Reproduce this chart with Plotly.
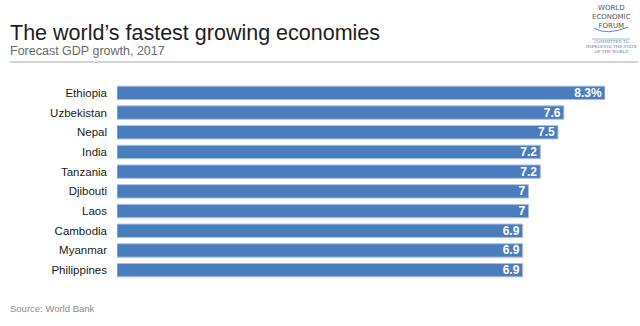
import plotly.graph_objects as go

countries = ["Ethiopia", "Uzbekistan", "Nepal", "India", "Tanzania",
             "Djibouti", "Laos", "Cambodia", "Myanmar", "Philippines"]
growth = [8.3, 7.6, 7.5, 7.2, 7.2, 7.0, 7.0, 6.9, 6.9, 6.9]
value_labels = ["8.3%", "7.6", "7.5", "7.2", "7.2", "7", "7", "6.9", "6.9", "6.9"]

BAR = "#4a7dbd"
EDGE = "#a9c3e3"

W, H = 640, 326
ML, MR, MT, MB = 117, 35, 83, 46
PW, PH = W - ML - MR, H - MT - MB


def xp(px):
    """Pixel x to paper coordinate."""
    return (px - ML) / PW


def yp(py):
    """Pixel y (from top) to paper coordinate."""
    return (H - MB - py) / PH


fig = go.Figure(go.Bar(
    x=growth,
    y=countries,
    orientation="h",
    marker=dict(color=BAR, line=dict(color=EDGE, width=1)),
    text=value_labels,
    textposition="inside",
    insidetextanchor="end",
    textangle=0,
    constraintext="none",
    textfont=dict(family="Liberation Sans, Arial", size=12, color="white"),
    texttemplate="<b>%{text}</b>",
    width=0.68,
    hoverinfo="skip",
))

fig.update_layout(
    width=W, height=H,
    margin=dict(l=ML, r=MR, t=MT, b=MB),
    paper_bgcolor="white",
    plot_bgcolor="white",
    showlegend=False,
    uniformtext=dict(minsize=12, mode="show"),
    xaxis=dict(range=[0, 8.3], visible=False, fixedrange=True),
    yaxis=dict(
        categoryorder="array",
        categoryarray=countries[::-1],
        tickfont=dict(family="Liberation Sans, Arial", size=11.5, color="#1a1a1a"),
        ticks="",
        ticklabelstandoff=9,
        showgrid=False,
        fixedrange=True,
    ),
)


def note(text, x, y, size, color, family="Liberation Sans, Arial", anchor="left"):
    fig.add_annotation(x=xp(x), y=yp(y), xref="paper", yref="paper",
                       text=text, showarrow=False, xanchor=anchor, yanchor="middle",
                       font=dict(family=family, size=size, color=color))


# Title block
note("The world’s fastest growing economies", 8, 33, 21.5, "#1e1e1e")
note("Forecast GDP growth, 2017", 8, 51, 12.5, "#6a6a6a")

# Rule under the header
fig.add_shape(type="line", xref="paper", yref="paper",
              x0=xp(10), x1=xp(638), y0=yp(62), y1=yp(62),
              line=dict(color="#d4d4d4", width=2))

# Forum wordmark
note("WORLD<br>ECONOMIC<br>FORUM", 611, 17, 7, "#555555",
     family="DejaVu Sans, Arial", anchor="center")
fig.add_shape(type="path", xref="paper", yref="paper",
              path="M {} {} Q {} {} {} {}".format(xp(594), yp(28), xp(607), yp(36),
                                                  xp(628), yp(27)),
              line=dict(color="#5b8ac0", width=1))
fig.add_shape(type="line", xref="paper", yref="paper",
              x0=xp(592), x1=xp(630), y0=yp(39), y1=yp(39),
              line=dict(color="#8aa6cc", width=0.8))
note("COMMITTED TO<br>IMPROVING THE STATE<br>OF THE WORLD", 611, 46.5, 4,
     "#5b7fb0", family="DejaVu Serif, serif", anchor="center")

# Source note
note("Source: World Bank", 8, 308, 9.5, "#8a8a8a",
     family="Liberation Sans Narrow, Liberation Sans, Arial")

fig.write_html("out.html")
